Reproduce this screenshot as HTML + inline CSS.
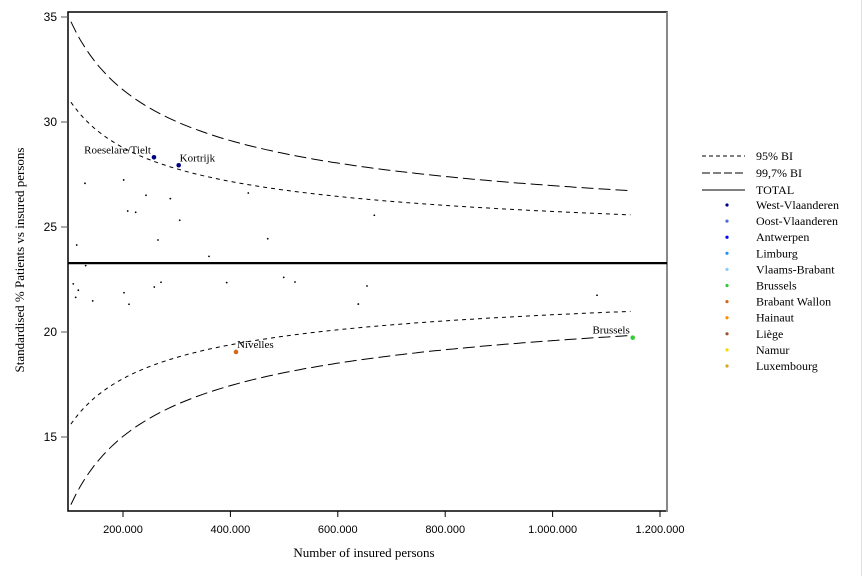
<!DOCTYPE html>
<html><head><meta charset="utf-8"><style>
body{margin:0;background:#fff;width:864px;height:576px;overflow:hidden}
svg text{font-family:"Liberation Serif",serif;fill:#000}
</style></head><body>
<svg id="chart" width="864" height="576" xmlns="http://www.w3.org/2000/svg">
<rect x="0" y="0" width="864" height="576" fill="#fff"/>
<line x1="861.5" y1="0" x2="861.5" y2="576" stroke="#e0e0e0"/>
<g id="plot"></g>
<text x="364" y="557" text-anchor="middle" font-size="13">Number of insured persons</text>
<text transform="translate(24,260) rotate(-90)" text-anchor="middle" font-size="13">Standardised % Patients vs insured persons</text>
<g id="legend"></g>
</svg>
<script>
const xTicks=[200000,400000,600000,800000,1000000,1200000];
const xTickLabels=["200.000","400.000","600.000","800.000","1.000.000","1.200.000"];
const yTicks=[15,20,25,30,35];
const total=23.28;
const ciScale=1230;
const z95=2.0, z997=3;
const nMin=103000, nMax=1145000;
const ptX=[129200,201300,242800,288100,208800,223600,305600,433300,668000,113800,265200,469500,360100,130500,107400,116800,111900,143600,201900,211200,258300,270800,393100,499300,520300,654400,638200,1082700];
const ptY=[27.08,27.24,26.51,26.35,25.76,25.70,25.32,26.62,25.56,24.14,24.38,24.44,23.60,23.16,22.29,21.99,21.65,21.48,21.87,21.32,22.14,22.37,22.35,22.60,22.38,22.19,21.33,21.75];
const labNames=["Roeselare/Tielt","Kortrijk","Nivelles","Brussels"];
const labX=[257700,303700,410400,1149200];
const labY=[28.32,27.94,19.05,19.73];
const labColor=["#000080","#000080","#d2691e","#33cc33"];
const legNames=["West-Vlaanderen","Oost-Vlaanderen","Antwerpen","Limburg","Vlaams-Brabant","Brussels","Brabant Wallon","Hainaut","Liège","Namur","Luxembourg"];
const legColors=["#000080","#4f6fe0","#0000ff","#1e90ff","#87cefa","#33cc33","#d2691e","#ff8c00","#a0522d","#ffd700","#daa520"];

const NS="http://www.w3.org/2000/svg";
const L=68,R=667,T=12,B=511;
const X=v=>123+(v-200000)*107.4/200000;
const Y=v=>17+(35-v)*21;
function mk(tag,attrs,parent){const e=document.createElementNS(NS,tag);for(const k in attrs)e.setAttribute(k,attrs[k]);parent.appendChild(e);return e;}
const plot=document.getElementById('plot');


let f=mk('rect',{x:L,y:T,width:R-L,height:B-T,fill:'none',stroke:'#000','stroke-width':1.5},plot);


let rf=mk('line',{x1:R,y1:T,x2:R,y2:B+1,stroke:'#888','stroke-width':2},plot);


xTicks.forEach((t,i)=>{
 const tl=mk('line',{x1:X(t),y1:B,x2:X(t),y2:B+6,stroke:'#000'},plot);
 
 
 const tx=mk('text',{x:X(t),y:B+22,'text-anchor':'middle','font-size':11,style:'font-family:"Liberation Sans",sans-serif'},plot);
 tx.textContent=xTickLabels[i];
 
 
});
yTicks.forEach(t=>{
 const tl=mk('line',{x1:L-7,y1:Y(t),x2:L,y2:Y(t),stroke:'#555'},plot);
 
 
 const tx=mk('text',{x:L-11,y:Y(t)+4,'text-anchor':'end','font-size':12,style:'font-family:"Liberation Sans",sans-serif'},plot);
 tx.textContent=String(t);
 
 
});
function curve(z,sign,dash,name){
 let d='';
 for(let i=0;i<=120;i++){const n=nMin+(nMax-nMin)*i/120;const v=total+sign*z*ciScale/Math.sqrt(n);d+=(i?'L':'M')+X(n).toFixed(1)+','+Y(v).toFixed(1);}
 const p=mk('path',{d:d,fill:'none',stroke:'#000','stroke-width':1,'stroke-dasharray':dash},plot);
 
 
}
curve(z997,1,'12,5','ci997-upper');
curve(z95,1,'4,4','ci95-upper');
curve(z95,-1,'4,4','ci95-lower');
curve(z997,-1,'12,5','ci997-lower');
const tot=mk('line',{x1:L,y1:Y(total),x2:R,y2:Y(total),stroke:'#000','stroke-width':2.2},plot);


ptX.forEach((v,i)=>{
 const c=mk('circle',{cx:X(v),cy:Y(ptY[i]),r:0.9,fill:'#000'},plot);
 
 
});
labNames.forEach((nm,i)=>{
 const cx=X(labX[i]),cy=Y(labY[i]);
 const c=mk('circle',{cx:cx,cy:cy,r:2.3,fill:labColor[i]},plot);
 
 
 let tx;
 if(i===0||i===3) tx=mk('text',{x:cx-3,y:cy-4,'text-anchor':'end','font-size':11},plot);
 else tx=mk('text',{x:cx+1,y:cy-4,'font-size':11},plot);
 tx.textContent=nm;
 
 
});
const lg=document.getElementById('legend');
[['95% BI','4,3',156],['99,7% BI','8,3',173],['TOTAL','',190]].forEach(a=>{
 const l=mk('line',{x1:702,y1:a[2],x2:745,y2:a[2],stroke:'#000','stroke-width':1},lg);
 if(a[1])l.setAttribute('stroke-dasharray',a[1]);
 
 
 const t=mk('text',{x:756,y:a[2]+4,'font-size':12},lg);
 t.textContent=a[0];
 
 
});
legNames.forEach((nm,i)=>{
 const y=205+i*16.1;
 const c=mk('circle',{cx:727,cy:y,r:1.6,fill:legColors[i]},lg);
 
 
 const t=mk('text',{x:756,y:y+4,'font-size':12},lg);
 t.textContent=nm;
 
 
});
</script>
</body></html>
